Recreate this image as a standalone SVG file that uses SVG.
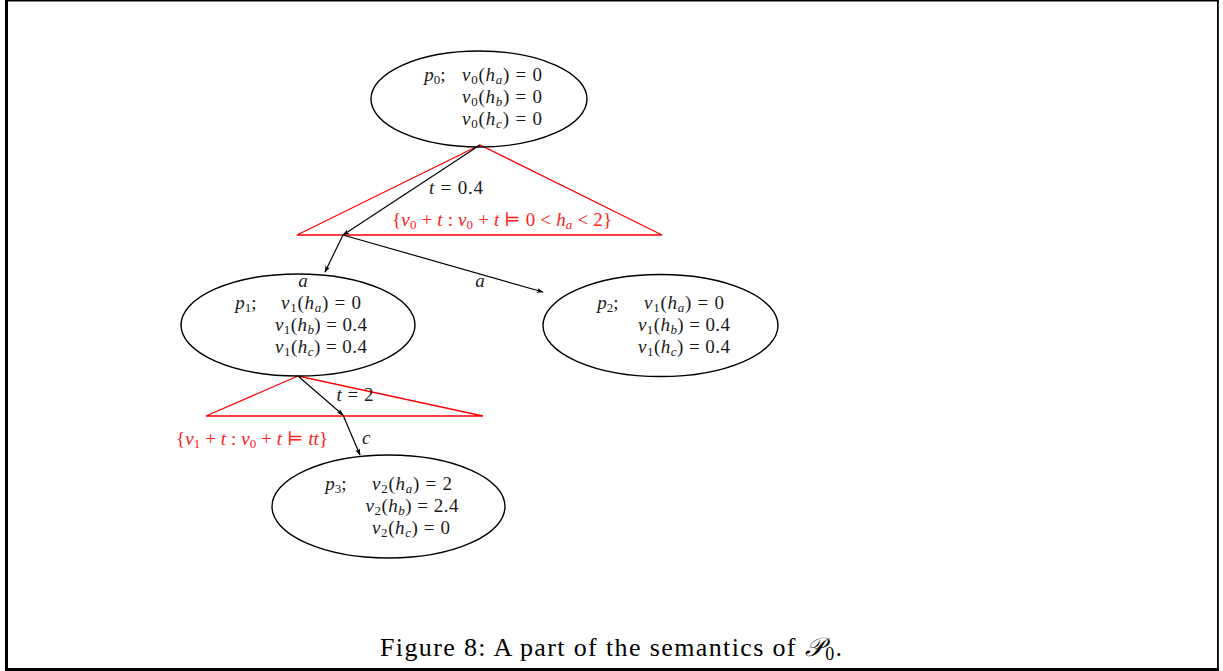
<svg xmlns="http://www.w3.org/2000/svg" width="1223" height="671" viewBox="0 0 1223 671">
  <style>
    text { font-family: "Liberation Serif", "DejaVu Serif", serif; font-size: 19px; fill: #1a1a1a; }
    .i { font-style: italic; }
    .s { font-size: 13px; }
    .red { fill: #ff2020; }
    .mid { text-anchor: middle; }
    .node { fill: none; stroke: #000; stroke-width: 1.4; }
    .edge { fill: none; stroke: #000; stroke-width: 1.2; marker-end: url(#arr); }
    .zone { fill: none; stroke: #ff0000; stroke-width: 1.3; }
    .cap { font-size: 26px; fill: #000; }
  </style>
  <defs>
    <marker id="arr" viewBox="0 0 10 10" refX="9" refY="5" markerWidth="7" markerHeight="7" markerUnits="userSpaceOnUse" orient="auto">
      <path d="M0,1.5 L10,5 L0,8.5 L2.5,5 Z" fill="#000"/>
    </marker>
  </defs>

  <!-- page frame -->
  <rect x="0" y="0" width="1223" height="671" fill="#fff"/>
  <g id="frame" fill="#000">
    <rect x="5" y="0" width="3" height="671"/>
    <rect x="5" y="0" width="1214" height="1.5"/>
    <rect x="1217" y="0" width="1.8" height="671"/>
    <rect x="5" y="668" width="1214" height="3"/>
  </g>

  <!-- time-elapse regions -->
  <g id="zones">
    <polygon class="zone" points="480,145 297,235 662,235"/>
    <polygon class="zone" points="298,376 206,416 483,416"/>
    <text class="red mid" x="502" y="226" textLength="220" lengthAdjust="spacing">{<tspan class="i">v</tspan><tspan class="s" dy="3">0</tspan><tspan dy="-3"> + </tspan><tspan class="i">t</tspan> : <tspan class="i">v</tspan><tspan class="s" dy="3">0</tspan><tspan dy="-3"> + </tspan><tspan class="i">t</tspan> ⊨ 0 &lt; <tspan class="i">h</tspan><tspan class="s i" dy="3">a</tspan><tspan dy="-3"> &lt; 2}</tspan></text>
    <text class="red mid" x="252" y="445" textLength="152" lengthAdjust="spacing">{<tspan class="i">v</tspan><tspan class="s" dy="3">1</tspan><tspan dy="-3"> + </tspan><tspan class="i">t</tspan> : <tspan class="i">v</tspan><tspan class="s" dy="3">0</tspan><tspan dy="-3"> + </tspan><tspan class="i">t</tspan> ⊨ <tspan class="i">tt</tspan>}</text>
  </g>

  <!-- transitions -->
  <g id="edges">
    <line class="edge" x1="480" y1="145" x2="343" y2="235"/>
    <line class="edge" x1="343" y1="235" x2="325" y2="272"/>
    <line class="edge" x1="343" y1="235" x2="543" y2="292"/>
    <line class="edge" x1="298" y1="376" x2="343" y2="415"/>
    <line class="edge" x1="343" y1="415" x2="360" y2="455"/>
    <text class="mid" x="456" y="194" textLength="54" lengthAdjust="spacing"><tspan class="i">t</tspan> = 0.4</text>
    <text class="i mid" x="303" y="287">a</text>
    <text class="i mid" x="480" y="287">a</text>
    <text class="mid" x="355" y="401" textLength="37" lengthAdjust="spacing"><tspan class="i">t</tspan> = 2</text>
    <text class="i" x="362" y="444">c</text>
  </g>

  <!-- state p0 -->
  <g id="p0">
    <ellipse class="node" cx="479" cy="99" rx="108" ry="48"/>
    <text class="mid" x="435" y="81"><tspan class="i">p</tspan><tspan class="s" dy="3">0</tspan><tspan dy="-3">;</tspan></text>
    <text class="mid" x="502" y="81" textLength="80" lengthAdjust="spacing"><tspan class="i">v</tspan><tspan class="s" dy="3">0</tspan><tspan dy="-3">(</tspan><tspan class="i">h</tspan><tspan class="s i" dy="3">a</tspan><tspan dy="-3">) = 0</tspan></text>
    <text class="mid" x="502" y="103" textLength="80" lengthAdjust="spacing"><tspan class="i">v</tspan><tspan class="s" dy="3">0</tspan><tspan dy="-3">(</tspan><tspan class="i">h</tspan><tspan class="s i" dy="3">b</tspan><tspan dy="-3">) = 0</tspan></text>
    <text class="mid" x="502" y="125" textLength="80" lengthAdjust="spacing"><tspan class="i">v</tspan><tspan class="s" dy="3">0</tspan><tspan dy="-3">(</tspan><tspan class="i">h</tspan><tspan class="s i" dy="3">c</tspan><tspan dy="-3">) = 0</tspan></text>
  </g>

  <!-- state p1 -->
  <g id="p1">
    <ellipse class="node" cx="298" cy="325" rx="117" ry="51"/>
    <text class="mid" x="246" y="309"><tspan class="i">p</tspan><tspan class="s" dy="3">1</tspan><tspan dy="-3">;</tspan></text>
    <text class="mid" x="321" y="309" textLength="80" lengthAdjust="spacing"><tspan class="i">v</tspan><tspan class="s" dy="3">1</tspan><tspan dy="-3">(</tspan><tspan class="i">h</tspan><tspan class="s i" dy="3">a</tspan><tspan dy="-3">) = 0</tspan></text>
    <text class="mid" x="321" y="331" textLength="92" lengthAdjust="spacing"><tspan class="i">v</tspan><tspan class="s" dy="3">1</tspan><tspan dy="-3">(</tspan><tspan class="i">h</tspan><tspan class="s i" dy="3">b</tspan><tspan dy="-3">) = 0.4</tspan></text>
    <text class="mid" x="321" y="353" textLength="92" lengthAdjust="spacing"><tspan class="i">v</tspan><tspan class="s" dy="3">1</tspan><tspan dy="-3">(</tspan><tspan class="i">h</tspan><tspan class="s i" dy="3">c</tspan><tspan dy="-3">) = 0.4</tspan></text>
  </g>

  <!-- state p2 -->
  <g id="p2">
    <ellipse class="node" cx="660.5" cy="325.5" rx="117.5" ry="51"/>
    <text class="mid" x="608" y="309"><tspan class="i">p</tspan><tspan class="s" dy="3">2</tspan><tspan dy="-3">;</tspan></text>
    <text class="mid" x="684" y="309" textLength="80" lengthAdjust="spacing"><tspan class="i">v</tspan><tspan class="s" dy="3">1</tspan><tspan dy="-3">(</tspan><tspan class="i">h</tspan><tspan class="s i" dy="3">a</tspan><tspan dy="-3">) = 0</tspan></text>
    <text class="mid" x="684" y="331" textLength="92" lengthAdjust="spacing"><tspan class="i">v</tspan><tspan class="s" dy="3">1</tspan><tspan dy="-3">(</tspan><tspan class="i">h</tspan><tspan class="s i" dy="3">b</tspan><tspan dy="-3">) = 0.4</tspan></text>
    <text class="mid" x="684" y="353" textLength="92" lengthAdjust="spacing"><tspan class="i">v</tspan><tspan class="s" dy="3">1</tspan><tspan dy="-3">(</tspan><tspan class="i">h</tspan><tspan class="s i" dy="3">c</tspan><tspan dy="-3">) = 0.4</tspan></text>
  </g>

  <!-- state p3 -->
  <g id="p3">
    <ellipse class="node" cx="388.5" cy="506.5" rx="116.5" ry="51.5"/>
    <text class="mid" x="336" y="490"><tspan class="i">p</tspan><tspan class="s" dy="3">3</tspan><tspan dy="-3">;</tspan></text>
    <text class="mid" x="412" y="490" textLength="80" lengthAdjust="spacing"><tspan class="i">v</tspan><tspan class="s" dy="3">2</tspan><tspan dy="-3">(</tspan><tspan class="i">h</tspan><tspan class="s i" dy="3">a</tspan><tspan dy="-3">) = 2</tspan></text>
    <text class="mid" x="412" y="512" textLength="93" lengthAdjust="spacing"><tspan class="i">v</tspan><tspan class="s" dy="3">2</tspan><tspan dy="-3">(</tspan><tspan class="i">h</tspan><tspan class="s i" dy="3">b</tspan><tspan dy="-3">) = 2.4</tspan></text>
    <text class="mid" x="411" y="534" textLength="78" lengthAdjust="spacing"><tspan class="i">v</tspan><tspan class="s" dy="3">2</tspan><tspan dy="-3">(</tspan><tspan class="i">h</tspan><tspan class="s i" dy="3">c</tspan><tspan dy="-3">) = 0</tspan></text>
  </g>

  <!-- caption -->
  <text class="cap" x="380" y="656" textLength="462" lengthAdjust="spacing">Figure 8: A part of the semantics of <tspan class="i">𝒫</tspan><tspan font-size="18" dy="4">0</tspan><tspan dy="-4">.</tspan></text>
</svg>
